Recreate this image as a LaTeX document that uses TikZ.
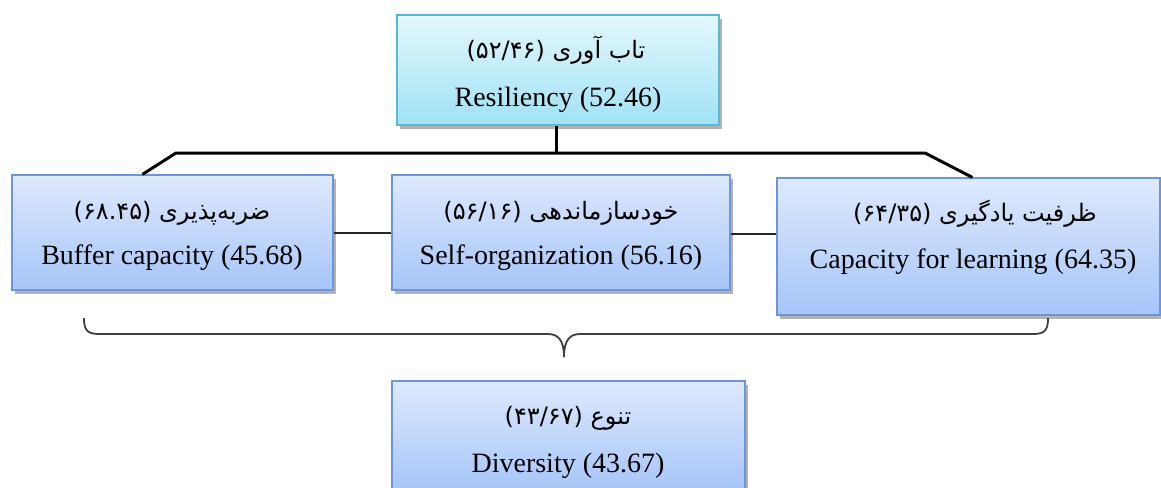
\documentclass[tikz,border=0pt]{standalone}
\usepackage{fontspec}
\setmainfont{Liberation Serif}
\newfontfamily\fa[Script=Arabic]{DejaVu Sans}
\TeXXeTstate=1
\usetikzlibrary{shadows,calc}
\definecolor{cyantop}{HTML}{E4F8FD}
\definecolor{cyanbot}{HTML}{A0E2F5}
\definecolor{cyanedge}{HTML}{5AB8D2}
\definecolor{bluetop}{HTML}{DEE9FC}
\definecolor{bluebot}{HTML}{A6C5F9}
\definecolor{blueedge}{HTML}{6E96D6}
\definecolor{bracegray}{HTML}{404040}
\tikzset{
  basebox/.style={rectangle, inner sep=0pt, line width=1.2pt,
    drop shadow={shadow xshift=3pt, shadow yshift=-4pt, fill=black, opacity=0.3}},
  topbox/.style={basebox, draw=cyanedge, top color=cyantop, bottom color=cyanbot},
  lowbox/.style={basebox, draw=blueedge, top color=bluetop, bottom color=bluebot},
  entext/.style={font=\fontsize{28}{32}\selectfont, inner sep=0pt},
  fatext/.style={font=\fa\fontsize{24}{28}\selectfont, inner sep=0pt},
  treeline/.style={line width=3pt, black},
  sideline/.style={line width=1.3pt, black!85},
  bracestyle/.style={line width=1.8pt, bracegray}
}
\begin{document}
\begin{tikzpicture}[x=1pt,y=-1pt]
\useasboundingbox (0,0) rectangle (1161,487);
% boxes
\node[topbox, minimum width=322pt, minimum height=110pt] (res) at (558,70) {};
\node[lowbox, minimum width=321pt, minimum height=115pt] (buf) at (172.5,232.5) {};
\node[lowbox, minimum width=338pt, minimum height=115pt] (self) at (561,232.5) {};
\node[lowbox, minimum width=383pt, minimum height=137pt] (cap) at (968.5,246.5) {};
\node[lowbox, minimum width=353pt, minimum height=110pt] (div) at (568.5,436) {};
% texts
\node[fatext] (resfa) at (556,50) {\beginR تاب آوری (۵۲/۴۶)\endR};
\node[entext] (resen) at (558,100) {Resiliency (52.46)};
\node[fatext] (buffa) at (172,213) {\beginR ضربه‌پذیری (۶۸.۴۵)\endR};
\node[entext] (bufen) at (172,258) {Buffer capacity (45.68)};
\node[fatext] (selffa) at (561,213) {\beginR خودسازماندهی (۵۶/۱۶)\endR};
\node[entext] (selfen) at (561,258) {Self-organization (56.16)};
\node[fatext] (capfa) at (975,214) {\beginR ظرفیت یادگیری (۶۴/۳۵)\endR};
\node[entext] (capen) at (973,262) {Capacity for learning (64.35)};
\node[fatext] (divfa) at (568,418) {\beginR تنوع (۴۳/۶۷)\endR};
\node[entext] (diven) at (568,466) {Diversity (43.67)};
% tree connectors
\coordinate (hub) at (556,153);
\coordinate (hl) at (176,153);
\coordinate (hr) at (925,153);
\draw[treeline] (res.south -| hub) -- (hub);
\draw[treeline] ($(buf.north west)+(131,0)$) -- (hl) -- (hr) -- ($(cap.north west)+(196,0)$);
% side connectors
\draw[sideline] (buf.east |- 0,233) -- (self.west |- 0,233);
\draw[sideline] (self.east |- 0,234) -- (cap.west |- 0,234);
% brace
\coordinate (bl) at (84,318);
\coordinate (br) at (1048,318);
\coordinate (tip) at (564,357);
\draw[bracestyle] (bl) .. controls (84,330) and (87,334) .. (99,334) -- (548,334)
  .. controls (558,334) and (564,340) .. (tip)
  .. controls (564,340) and (570,334) .. (580,334) -- (1033,334)
  .. controls (1045,334) and (1048,330) .. (br);
\end{tikzpicture}
\end{document}
